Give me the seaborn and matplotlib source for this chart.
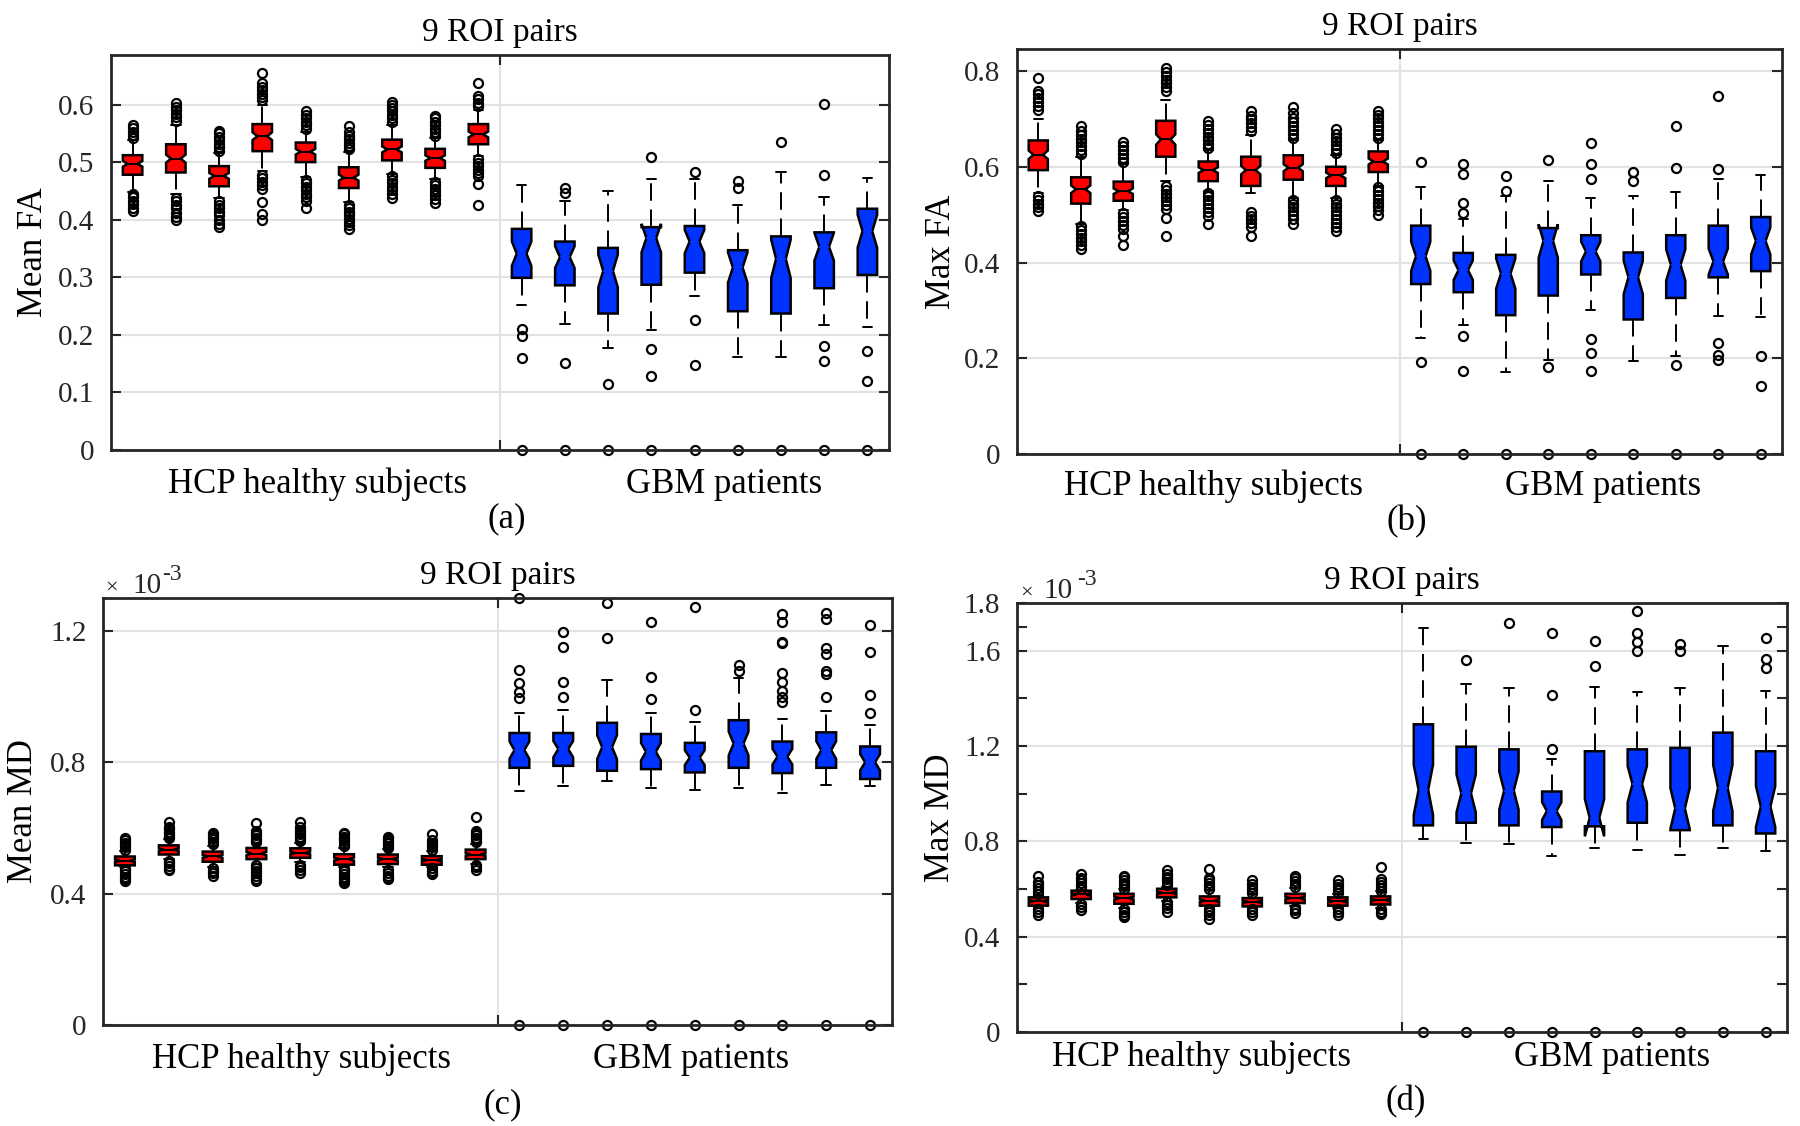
import numpy as np
import matplotlib.pyplot as plt
import seaborn as sns

sns.set_style("white")
plt.rcParams['font.family'] = ['Liberation Serif', 'DejaVu Serif']

W, H = 1800, 1126
RED = '#ff0000'
BLUE = '#0033ff'
N_HCP, N_GBM = 120, 40   # group sizes used for the notch width (MATLAB style)

positions = list(range(1, 19))   # 9 HCP boxes then 9 GBM boxes

# ---------------- (a) Mean FA ----------------
mean_fa_q1 = [0.478, 0.482, 0.458, 0.519, 0.500, 0.455, 0.503, 0.490, 0.531,
              0.299, 0.286, 0.237, 0.287, 0.308, 0.241, 0.237, 0.281, 0.304]
mean_fa_med = [0.497, 0.506, 0.476, 0.545, 0.518, 0.473, 0.522, 0.507, 0.548,
               0.341, 0.335, 0.311, 0.368, 0.362, 0.317, 0.332, 0.353, 0.380]
mean_fa_q3 = [0.512, 0.531, 0.493, 0.566, 0.534, 0.491, 0.539, 0.523, 0.566,
              0.384, 0.362, 0.351, 0.387, 0.389, 0.347, 0.371, 0.378, 0.419]
mean_fa_lo = [0.448, 0.445, 0.437, 0.485, 0.474, 0.431, 0.480, 0.470, 0.510,
              0.251, 0.219, 0.178, 0.208, 0.268, 0.162, 0.162, 0.217, 0.214]
mean_fa_hi = [0.538, 0.565, 0.515, 0.600, 0.553, 0.517, 0.565, 0.541, 0.590,
              0.461, 0.432, 0.450, 0.470, 0.470, 0.425, 0.482, 0.440, 0.472]
mean_fa_out = [
    [0.541, 0.547, 0.553, 0.559, 0.565, 0.445, 0.439, 0.433, 0.427, 0.421, 0.415],
    [0.572, 0.578, 0.584, 0.590, 0.596, 0.602, 0.438, 0.432, 0.426, 0.420, 0.412, 0.404, 0.399],
    [0.520, 0.526, 0.532, 0.538, 0.544, 0.550, 0.554, 0.432, 0.426, 0.420, 0.414, 0.408, 0.400, 0.392, 0.387],
    [0.607, 0.613, 0.619, 0.625, 0.631, 0.637, 0.655, 0.478, 0.472, 0.466, 0.460, 0.454, 0.430, 0.410, 0.399],
    [0.558, 0.564, 0.570, 0.576, 0.582, 0.589, 0.469, 0.463, 0.457, 0.451, 0.445, 0.439, 0.433, 0.421],
    [0.522, 0.528, 0.534, 0.540, 0.546, 0.552, 0.563, 0.426, 0.420, 0.414, 0.408, 0.402, 0.396, 0.390, 0.384],
    [0.570, 0.576, 0.582, 0.588, 0.594, 0.600, 0.604, 0.475, 0.469, 0.463, 0.457, 0.451, 0.445, 0.438],
    [0.546, 0.552, 0.558, 0.564, 0.570, 0.576, 0.580, 0.466, 0.460, 0.454, 0.448, 0.442, 0.436, 0.429],
    [0.597, 0.603, 0.609, 0.614, 0.638, 0.505, 0.499, 0.493, 0.487, 0.481, 0.475, 0.462, 0.425],
    [0.210, 0.198, 0.159, 0.0],
    [0.455, 0.446, 0.151, 0.0],
    [0.114, 0.0],
    [0.509, 0.175, 0.129, 0.0],
    [0.483, 0.226, 0.148, 0.0],
    [0.467, 0.455, 0.0],
    [0.535, 0.0],
    [0.601, 0.477, 0.180, 0.154, 0.0],
    [0.172, 0.120, 0.0],
]

# ---------------- (b) Max FA ----------------
max_fa_q1 = [0.593, 0.523, 0.529, 0.621, 0.570, 0.560, 0.573, 0.560, 0.589,
             0.355, 0.338, 0.290, 0.331, 0.375, 0.281, 0.326, 0.369, 0.382]
max_fa_med = [0.625, 0.553, 0.549, 0.657, 0.593, 0.593, 0.598, 0.582, 0.611,
              0.413, 0.384, 0.377, 0.445, 0.423, 0.369, 0.395, 0.402, 0.445]
max_fa_q3 = [0.655, 0.578, 0.569, 0.696, 0.611, 0.621, 0.624, 0.600, 0.632,
             0.477, 0.420, 0.416, 0.472, 0.457, 0.421, 0.457, 0.477, 0.495]
max_fa_lo = [0.545, 0.480, 0.510, 0.570, 0.550, 0.545, 0.535, 0.535, 0.560,
             0.243, 0.270, 0.171, 0.197, 0.301, 0.194, 0.204, 0.288, 0.287]
max_fa_hi = [0.700, 0.620, 0.605, 0.740, 0.635, 0.667, 0.655, 0.625, 0.655,
             0.557, 0.490, 0.539, 0.570, 0.534, 0.539, 0.547, 0.575, 0.583]
max_fa_out = [
    [0.719, 0.727, 0.735, 0.743, 0.751, 0.759, 0.785, 0.539, 0.531, 0.523, 0.515, 0.507],
    [0.627, 0.635, 0.643, 0.651, 0.659, 0.667, 0.675, 0.685, 0.476, 0.468, 0.460, 0.452, 0.444, 0.436, 0.428],
    [0.611, 0.619, 0.627, 0.635, 0.643, 0.651, 0.503, 0.495, 0.487, 0.479, 0.471, 0.456, 0.436],
    [0.758, 0.766, 0.774, 0.782, 0.790, 0.798, 0.806, 0.560, 0.552, 0.544, 0.536, 0.528, 0.520, 0.512, 0.492, 0.456],
    [0.639, 0.647, 0.655, 0.663, 0.671, 0.679, 0.687, 0.695, 0.546, 0.538, 0.530, 0.522, 0.514, 0.506, 0.498, 0.481],
    [0.675, 0.683, 0.691, 0.699, 0.707, 0.716, 0.506, 0.498, 0.490, 0.482, 0.475, 0.455],
    [0.661, 0.669, 0.677, 0.685, 0.693, 0.701, 0.712, 0.725, 0.531, 0.523, 0.515, 0.507, 0.499, 0.491, 0.480],
    [0.629, 0.637, 0.645, 0.653, 0.661, 0.669, 0.678, 0.531, 0.523, 0.515, 0.507, 0.499, 0.491, 0.483, 0.475, 0.466],
    [0.661, 0.669, 0.677, 0.685, 0.693, 0.701, 0.709, 0.717, 0.557, 0.549, 0.541, 0.533, 0.525, 0.517, 0.509, 0.500],
    [0.611, 0.193, 0.0],
    [0.605, 0.585, 0.524, 0.503, 0.247, 0.173, 0.0],
    [0.580, 0.549, 0.0],
    [0.614, 0.182, 0.0],
    [0.650, 0.605, 0.575, 0.240, 0.211, 0.173, 0.0],
    [0.589, 0.570, 0.0],
    [0.685, 0.598, 0.186, 0.0],
    [0.747, 0.595, 0.231, 0.207, 0.197, 0.0],
    [0.205, 0.141, 0.0],
]

# ---------------- (c) Mean MD (x 1e-3) ----------------
mean_md_q1 = [0.486, 0.519, 0.497, 0.505, 0.509, 0.488, 0.490, 0.488, 0.505,
              0.783, 0.789, 0.774, 0.779, 0.769, 0.783, 0.767, 0.783, 0.749]
mean_md_med = [0.500, 0.534, 0.513, 0.522, 0.524, 0.505, 0.505, 0.502, 0.519,
               0.837, 0.840, 0.846, 0.832, 0.814, 0.857, 0.817, 0.837, 0.800]
mean_md_q3 = [0.513, 0.547, 0.528, 0.539, 0.538, 0.520, 0.519, 0.514, 0.534,
              0.889, 0.889, 0.920, 0.886, 0.859, 0.928, 0.863, 0.891, 0.848]
mean_md_lo = [0.480, 0.505, 0.480, 0.490, 0.495, 0.480, 0.480, 0.480, 0.490,
              0.712, 0.727, 0.744, 0.721, 0.715, 0.721, 0.706, 0.732, 0.727]
mean_md_hi = [0.530, 0.565, 0.545, 0.550, 0.555, 0.540, 0.535, 0.530, 0.550,
              0.950, 0.959, 1.050, 0.951, 0.923, 1.056, 0.931, 0.957, 0.914]
mean_md_out = [
    [0.534, 0.541, 0.548, 0.555, 0.562, 0.570, 0.476, 0.468, 0.460, 0.452, 0.444, 0.437],
    [0.568, 0.575, 0.582, 0.589, 0.596, 0.602, 0.619, 0.500, 0.492, 0.484, 0.476, 0.471],
    [0.551, 0.558, 0.565, 0.572, 0.579, 0.585, 0.477, 0.470, 0.462, 0.454],
    [0.556, 0.563, 0.570, 0.577, 0.584, 0.590, 0.616, 0.486, 0.478, 0.470, 0.462, 0.454, 0.446, 0.437],
    [0.559, 0.566, 0.573, 0.580, 0.587, 0.594, 0.602, 0.619, 0.488, 0.480, 0.472, 0.464],
    [0.545, 0.552, 0.559, 0.566, 0.573, 0.580, 0.585, 0.476, 0.468, 0.460, 0.452, 0.444, 0.437, 0.431],
    [0.539, 0.546, 0.553, 0.560, 0.567, 0.573, 0.471, 0.463, 0.455, 0.448, 0.443],
    [0.534, 0.541, 0.548, 0.555, 0.562, 0.581, 0.477, 0.470, 0.463, 0.460],
    [0.556, 0.563, 0.570, 0.577, 0.584, 0.590, 0.634, 0.488, 0.480, 0.471],
    [1.300, 1.081, 1.041, 1.013, 0.997, 0.0],
    [1.198, 1.152, 1.045, 0.999, 0.0],
    [1.285, 1.177, 0.0],
    [1.226, 1.058, 0.993, 0.0],
    [1.272, 0.959, 0.0],
    [1.096, 1.079, 0.0],
    [1.251, 1.226, 1.167, 1.162, 1.073, 1.045, 1.016, 0.999, 0.982, 0.0],
    [1.255, 1.235, 1.147, 1.130, 1.079, 1.069, 0.999, 0.0],
    [1.217, 1.135, 1.005, 0.950, 0.0],
]

# ---------------- (d) Max MD (x 1e-3) ----------------
max_md_q1 = [0.530, 0.558, 0.538, 0.565, 0.530, 0.527, 0.541, 0.530, 0.535,
             0.867, 0.878, 0.867, 0.860, 0.863, 0.878, 0.847, 0.867, 0.833]
max_md_med = [0.549, 0.577, 0.562, 0.584, 0.551, 0.546, 0.562, 0.549, 0.554,
              1.016, 1.001, 1.013, 0.927, 0.899, 1.040, 0.938, 1.024, 0.946]
max_md_q3 = [0.565, 0.593, 0.580, 0.601, 0.569, 0.562, 0.580, 0.565, 0.569,
             1.291, 1.197, 1.186, 1.009, 1.178, 1.186, 1.192, 1.256, 1.178]
max_md_lo = [0.520, 0.540, 0.520, 0.550, 0.520, 0.520, 0.530, 0.520, 0.520,
             0.808, 0.794, 0.789, 0.739, 0.773, 0.765, 0.742, 0.770, 0.761]
max_md_hi = [0.575, 0.597, 0.598, 0.610, 0.595, 0.580, 0.605, 0.580, 0.590,
             1.696, 1.459, 1.443, 1.147, 1.448, 1.427, 1.443, 1.620, 1.432]
max_md_out = [
    [0.580, 0.592, 0.604, 0.616, 0.628, 0.656, 0.515, 0.503, 0.492],
    [0.601, 0.613, 0.625, 0.637, 0.648, 0.664, 0.538, 0.525, 0.511],
    [0.601, 0.613, 0.625, 0.637, 0.649, 0.656, 0.515, 0.503, 0.490, 0.483],
    [0.616, 0.628, 0.640, 0.652, 0.664, 0.679, 0.546, 0.534, 0.520, 0.504],
    [0.601, 0.613, 0.625, 0.637, 0.648, 0.682, 0.515, 0.503, 0.490, 0.475],
    [0.585, 0.597, 0.609, 0.621, 0.637, 0.515, 0.503, 0.491],
    [0.609, 0.621, 0.633, 0.645, 0.656, 0.522, 0.510, 0.499],
    [0.585, 0.597, 0.609, 0.621, 0.637, 0.515, 0.503, 0.491],
    [0.593, 0.605, 0.617, 0.629, 0.640, 0.692, 0.515, 0.505, 0.496],
    [0.0],
    [1.562, 0.0],
    [1.715, 0.0],
    [1.675, 1.412, 1.189, 0.0],
    [1.641, 1.534, 0.0],
    [1.766, 1.675, 1.636, 1.597, 0.0],
    [1.628, 1.600, 0.0],
    [0.0],
    [1.652, 1.565, 1.529, 0.0],
]

group_n = [N_HCP] * 9 + [N_GBM] * 9


def make_stats(q1, med, q3, lo, hi, out):
    stats = []
    for i in range(len(med)):
        half = 1.57 * (q3[i] - q1[i]) / np.sqrt(group_n[i])
        stats.append(dict(q1=q1[i], med=med[i], q3=q3[i], whislo=lo[i], whishi=hi[i],
                          fliers=out[i], cilo=med[i] - half, cihi=med[i] + half))
    return stats


fig = plt.figure(figsize=(W / 100, H / 100), dpi=100)


def px_axes(l, t, r, b):
    return fig.add_axes([l / W, 1 - b / H, (r - l) / W, (b - t) / H])


def ftext(x, y, s, **kw):
    kw.setdefault('color', 'black')
    fig.text(x / W, 1 - y / H, s, **kw)


def draw_panel(ax, stats, ylim, yticks, minor=None):
    res = ax.bxp(stats, positions=positions, widths=0.45, capwidths=0.22,
                 shownotches=True, patch_artist=True, manage_ticks=False,
                 boxprops=dict(edgecolor='black', linewidth=1.8),
                 whiskerprops=dict(color='black', linewidth=1.4, linestyle=(0, (9, 4.5))),
                 capprops=dict(color='black', linewidth=1.4),
                 medianprops=dict(color='black', linewidth=1.4),
                 flierprops=dict(marker='o', markerfacecolor='none', markeredgecolor='black',
                                 markersize=6.5, markeredgewidth=1.6, clip_on=False))
    for i, box in enumerate(res['boxes']):
        box.set_facecolor(RED if i < 9 else BLUE)
    for med in res['medians'][9:]:
        med.set_color(BLUE)

    ax.set_xlim(0.5, 18.5)
    ax.set_ylim(*ylim)
    ax.set_xticks([9.5])
    ax.set_xticklabels([])
    ax.set_yticks(yticks)
    ax.set_yticklabels(['0' if t == 0 else f'{t:g}' for t in yticks])
    if minor is not None:
        ax.set_yticks(minor, minor=True)
    ax.tick_params(axis='both', which='both', direction='in', length=7, width=1.5,
                   colors='#262626', labelsize=21, left=True, right=True,
                   top=True, bottom=True, pad=12)
    ax.grid(True, which='major', color='#e2e2e2', linewidth=1.5)
    ax.set_axisbelow(True)
    for s in ax.spines.values():
        s.set_linewidth(2)
        s.set_color('#262626')


# panel (a)
ax_a = px_axes(111, 55, 889, 450)
draw_panel(ax_a, make_stats(mean_fa_q1, mean_fa_med, mean_fa_q3, mean_fa_lo, mean_fa_hi, mean_fa_out),
           (0, 0.686), [0, 0.1, 0.2, 0.3, 0.4, 0.5, 0.6])

# panel (b)
ax_b = px_axes(1017, 49, 1782, 454)
draw_panel(ax_b, make_stats(max_fa_q1, max_fa_med, max_fa_q3, max_fa_lo, max_fa_hi, max_fa_out),
           (0, 0.846), [0, 0.2, 0.4, 0.6, 0.8])

# panel (c)
ax_c = px_axes(103, 598, 892, 1025)
draw_panel(ax_c, make_stats(mean_md_q1, mean_md_med, mean_md_q3, mean_md_lo, mean_md_hi, mean_md_out),
           (0, 1.3), [0, 0.4, 0.8, 1.2])

# panel (d)
ax_d = px_axes(1017, 603, 1787, 1032)
draw_panel(ax_d, make_stats(max_md_q1, max_md_med, max_md_q3, max_md_lo, max_md_hi, max_md_out),
           (0, 1.8), [0, 0.4, 0.8, 1.2, 1.6, 1.8], minor=[0.2, 0.6, 1.0, 1.4, 1.7])

# titles, group labels, panel letters
title_fs, lab_fs = 24, 25
for (cx, ty) in [(500, 41), (1400, 35), (498, 584), (1402, 589)]:
    ftext(cx, ty, '9 ROI pairs', ha='center', va='baseline', fontsize=title_fs)

for (hx, gx, ly) in [(318, 724, 493), (1213, 1603, 495), (302, 691, 1068), (1202, 1612, 1066)]:
    ftext(hx, ly, 'HCP healthy subjects', ha='center', va='baseline', fontsize=lab_fs)
    ftext(gx, ly, 'GBM patients', ha='center', va='baseline', fontsize=lab_fs)

for (x, y, s) in [(507, 527, '(a)'), (1407, 530, '(b)'), (503, 1113, '(c)'), (1406, 1110, '(d)')]:
    ftext(x, y, s, ha='center', va='baseline', fontsize=lab_fs)

# y labels
for (x, axp, s) in [(34, ax_a, 'Mean FA'), (942, ax_b, 'Max FA'), (24, ax_c, 'Mean MD'), (940, ax_d, 'Max MD')]:
    pos = axp.get_position()
    fig.text(x / W, pos.y0 + pos.height / 2, s, rotation=90, ha='center', va='center',
             fontsize=lab_fs, color='black')

# exponent labels for the MD panels
for (x0, x1, x2, yb, ys) in [(105, 132, 162, 593, 580), (1020, 1043, 1077, 598, 585)]:
    ftext(x0, yb, '\u00d7', ha='left', va='baseline', fontsize=16, color='#262626')
    ftext(x1, yb, '10', ha='left', va='baseline', fontsize=21, color='#262626')
    ftext(x2, ys, '-3', ha='left', va='baseline', fontsize=17, color='#262626')

fig.savefig('out.png', dpi=100)
